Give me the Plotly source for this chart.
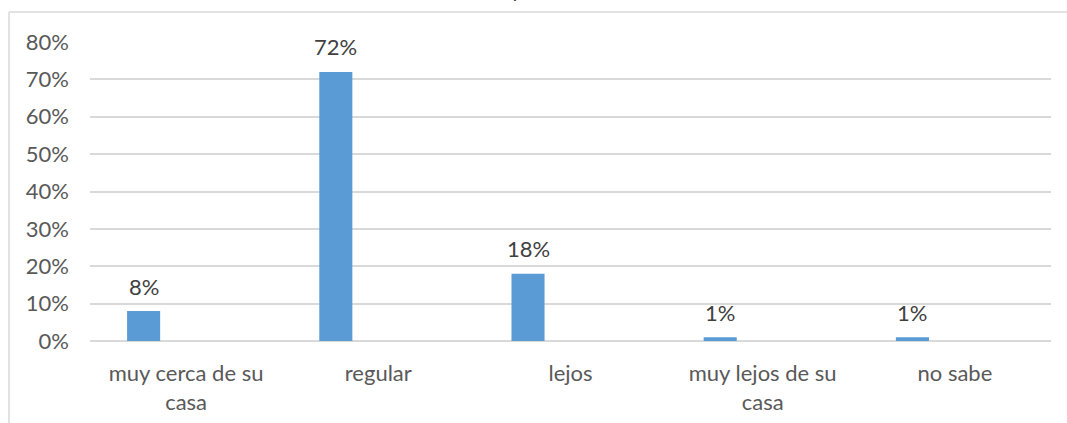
import plotly.graph_objects as go

# Survey answers: distance perception
categories = ["muy cerca de su casa", "regular", "lejos", "muy lejos de su casa", "no sabe"]
tick_labels = ["muy cerca de su<br>casa", "regular", "lejos", "muy lejos de su<br>casa", "no sabe"]
shares = [0.08, 0.72, 0.18, 0.01, 0.01]
y_ticks = [0, 0.1, 0.2, 0.3, 0.4, 0.5, 0.6, 0.7, 0.8]

BAR_COLOR = "#5B9BD5"
GRID = "#D9D9D9"
FONT = "Lato, 'Liberation Sans', Arial, sans-serif"
FS = 22

W, H = 1067, 423
ML, MR, MT, MB = 90, 16, 42, 82
plot_w = W - ML - MR
plot_h = H - MT - MB

BAR_OFFSET = -0.307   # bar sits left of the category centre
BAR_WIDTH = 0.172

x_idx = list(range(len(categories)))

fig = go.Figure()
fig.add_trace(go.Bar(
    x=x_idx, y=shares,
    marker=dict(color=BAR_COLOR, line=dict(width=0)),
    offset=BAR_OFFSET, width=BAR_WIDTH,
    hoverinfo="skip",
))

# value labels above each bar
for i, v in zip(x_idx, shares):
    fig.add_annotation(
        x=i + BAR_OFFSET + BAR_WIDTH / 2, y=v, xref="x", yref="y",
        text=f"{round(v * 100)}%", showarrow=False,
        yanchor="middle", yshift=25,
        font=dict(family=FONT, size=FS, color="#404040"),
    )

# chart frame (left and top edges)
fx = (9 - ML) / plot_w
fy_top = (H - MB - 12) / plot_h
fig.add_shape(type="line", xref="paper", yref="paper",
              x0=fx, x1=fx, y0=fy_top, y1=-0.4,
              line=dict(color=GRID, width=1.5))
fig.add_shape(type="line", xref="paper", yref="paper",
              x0=fx, x1=1.1, y0=fy_top, y1=fy_top,
              line=dict(color=GRID, width=1.5))

# title sitting above the visible frame
fig.add_annotation(
    x=(517 - ML) / plot_w, y=(H - MB - 4) / plot_h, xref="paper", yref="paper",
    text="y", showarrow=False, yanchor="bottom",
    font=dict(family=FONT, size=FS, color="#404040"),
)

fig.update_layout(
    width=W, height=H,
    margin=dict(l=ML, r=MR, t=MT, b=MB),
    paper_bgcolor="white", plot_bgcolor="white",
    showlegend=False,
    font=dict(family=FONT, size=FS, color="#595959"),
    xaxis=dict(
        range=[-0.5, len(categories) - 0.5],
        tickmode="array", tickvals=x_idx, ticktext=tick_labels,
        showgrid=False, zeroline=False, showline=False, ticks="",
        ticklabelstandoff=17, automargin=False,
        tickfont=dict(family=FONT, size=FS, color="#595959"),
    ),
    yaxis=dict(
        range=[0, 0.8],
        tickmode="array", tickvals=y_ticks,
        ticktext=[f"{round(t * 100)}%" for t in y_ticks],
        showgrid=True, gridcolor=GRID, gridwidth=1.5,
        zeroline=True, zerolinecolor=GRID, zerolinewidth=1.5,
        showline=False, ticks="",
        ticklabelstandoff=20, automargin=False,
        tickfont=dict(family=FONT, size=FS, color="#595959"),
    ),
)

fig.write_html("out.html")
